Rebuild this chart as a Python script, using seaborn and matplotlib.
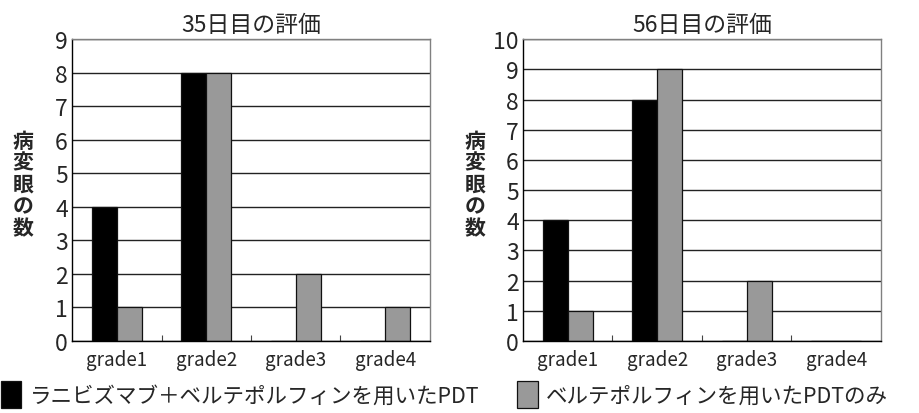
import matplotlib
matplotlib.use("Agg")
import matplotlib.pyplot as plt
import seaborn as sns
import pandas as pd
from matplotlib.patches import Patch

# データ
grades = ["grade1", "grade2", "grade3", "grade4"]
series_names = ["ラニビズマブ＋ベルテポルフィンを用いたPDT", "ベルテポルフィンを用いたPDTのみ"]
day35_combo = [4, 8, 0, 0]
day35_pdt = [1, 8, 2, 1]
day56_combo = [4, 8, 0, 0]
day56_pdt = [1, 9, 2, 0]
titles = ["35日目の評価", "56日目の評価"]
y_max = [9, 10]
ylabel = "病\n変\n眼\nの\n数"
colors = ["#000000", "#999999"]

sns.set_theme(style="white")
plt.rcParams["font.family"] = ["Noto Sans CJK JP", "DejaVu Sans"]


def make_df(combo, pdt):
    return pd.DataFrame({
        "grade": grades * 2,
        "count": combo + pdt,
        "series": [series_names[0]] * 4 + [series_names[1]] * 4,
    })


fig = plt.figure(figsize=(9.2, 4.14), dpi=100)
ax_left = fig.add_axes([0.0783, 0.174, 0.389, 0.729])
ax_right = fig.add_axes([0.5685, 0.174, 0.389, 0.729])

panels = [
    (ax_left, make_df(day35_combo, day35_pdt)),
    (ax_right, make_df(day56_combo, day56_pdt)),
]

for i, (ax, df) in enumerate(panels):
    ax.set_axisbelow(True)
    sns.barplot(
        data=df, x="grade", y="count", hue="series",
        palette=colors, width=0.56, edgecolor="#111111",
        linewidth=0.9, ax=ax, legend=False,
    )
    ax.set_ylim(0, y_max[i])
    ax.set_xlim(-0.5, 3.5)
    ax.set_yticks(range(0, y_max[i] + 1))
    ax.yaxis.grid(True, color="#222222", linewidth=1.0)
    ax.xaxis.grid(False)
    ax.tick_params(axis="y", length=0, pad=3, labelsize=16.5)
    ax.tick_params(axis="x", which="major", length=0, pad=6, labelsize=13.5)
    ax.set_xticks([0.5, 1.5, 2.5], minor=True)
    ax.tick_params(axis="x", which="minor", direction="in", length=4,
                   width=0.8, color="#444444", bottom=True)
    ax.set_xlabel("")
    ax.set_ylabel("")
    ax.set_title(titles[i], fontsize=16.5, pad=6)
    for side in ["left", "bottom"]:
        ax.spines[side].set_color("#000000")
        ax.spines[side].set_linewidth(1.0)
    for side in ["top", "right"]:
        ax.spines[side].set_color("#808080")
        ax.spines[side].set_linewidth(1.0)

# 縦書きのY軸ラベル
fig.text(23 / 920, 1 - 185 / 414, ylabel, ha="center", va="center",
         fontsize=15, fontweight="bold", linespacing=1.05)
fig.text(475 / 920, 1 - 185 / 414, ylabel, ha="center", va="center",
         fontsize=15, fontweight="bold", linespacing=1.05)

handles = [Patch(facecolor=c, edgecolor="#111111", linewidth=0.9) for c in colors]
fig.legend(
    handles, series_names, loc="lower left", bbox_to_anchor=(-0.013, -0.02),
    ncol=2, frameon=False, fontsize=15.5, handlelength=0.95, handleheight=1.6,
    handletextpad=0.4, columnspacing=1.75, borderaxespad=0.2,
)

fig.savefig("out.png", dpi=100)
